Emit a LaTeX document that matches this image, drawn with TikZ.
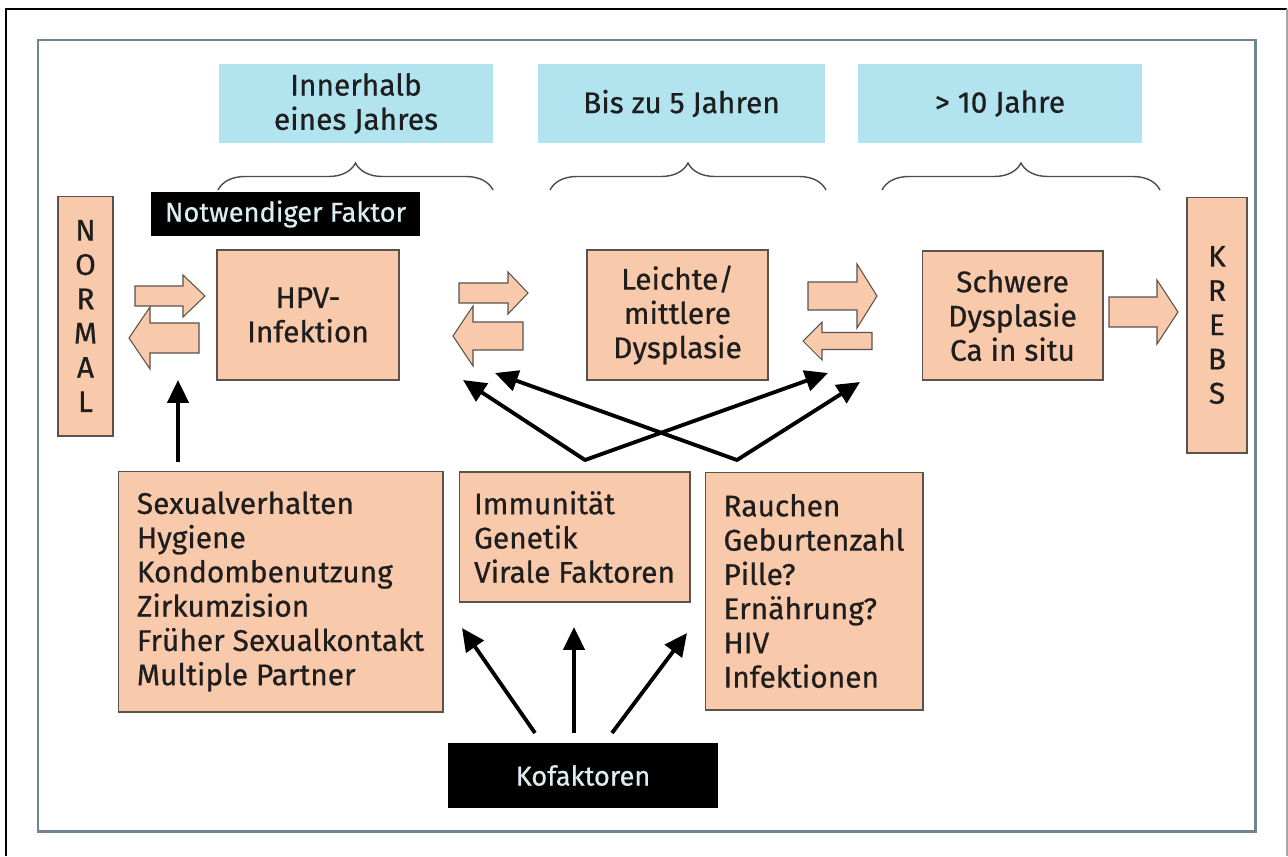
\documentclass[tikz,border=0pt]{standalone}
\usepackage{fontspec}
\setmainfont{Fira Sans}[FakeBold=0.6]
\usetikzlibrary{arrows.meta, positioning, calc, decorations.pathreplacing}

\definecolor{peach}{HTML}{F9C9AB}
\definecolor{skyb}{HTML}{B2E4F0}
\definecolor{framec}{HTML}{6E8491}
\definecolor{boxline}{HTML}{5A524C}
\definecolor{pale}{HTML}{DCEFF0}
\definecolor{ink}{HTML}{1E1E1E}

% block arrow: tail x, head base x, tip x, centre y, half shaft, half head
\newcommand{\blockarr}[6]{%
  \filldraw[blockarrow] (#1,#4-#5) -- (#2,#4-#5) -- (#2,#4-#6) -- (#3,#4)
    -- (#2,#4+#6) -- (#2,#4+#5) -- (#1,#4+#5) -- cycle;}

\begin{document}
\begin{tikzpicture}[
  x=0.02cm, y=-0.02cm,
  box/.style={draw=boxline, fill=peach, line width=0.6pt, inner sep=0pt, align=center,
    text=ink, font=\fontsize{17}{19.5}\selectfont},
  listbox/.style={box, align=left},
  period/.style={fill=skyb, inner sep=0pt, align=center, minimum height=1.58cm,
    text=ink, font=\fontsize{17}{19.5}\selectfont},
  tag/.style={fill=black, text=pale, inner sep=0pt, font=\fontsize{15.5}{18}\selectfont},
  blockarrow/.style={draw=boxline, fill=peach, line width=0.6pt},
  link/.style={line width=2.2pt, -{Triangle[length=13pt,width=12pt]}},
  cross/.style={line width=2.2pt, line join=round,
    {Triangle[length=13pt,width=12pt]}-{Triangle[length=13pt,width=12pt]}},
  span/.style={draw=black!70, line width=0.8pt, decorate, decoration={brace, amplitude=0.54cm}},
]
\useasboundingbox (0,0) rectangle (1288,856);

% frames
\draw[line width=0.8pt] (6,856) -- (6,9) -- (1287,9);
\draw[black!35, line width=0.6pt] (1287,9) -- (1287,856);
\draw[framec, line width=1.7pt] (38,40) rectangle (1255,831);

% time spans
\node[period, minimum width=5.48cm] (T1) at (356,103.5) {Innerhalb\\eines Jahres};
\node[period, minimum width=5.74cm] (T2) at (681.5,103.5) {Bis zu 5 Jahren};
\node[period, minimum width=5.68cm] (T3) at (1000,103.5) {> 10 Jahre};

\draw[span] (218,190) -- (493,190);
\draw[span] (550,190) -- (826,190);
\draw[span] (882,190) -- (1160,190);

\node[tag, minimum width=5.38cm, minimum height=0.88cm] (nf) at (285.5,214) {Notwendiger Faktor};

% stages
\node[box, minimum width=1.1cm, minimum height=4.8cm] (normal) at (85.5,316) {N\\O\\R\\M\\A\\L};
\node[box, minimum width=3.64cm, minimum height=2.6cm] (hpv) at (308,315) {HPV-\\Infektion};
\node[box, minimum width=3.62cm, minimum height=2.6cm] (dys) at (677.5,315) {Leichte/\\mittlere\\Dysplasie};
\node[box, minimum width=3.62cm, minimum height=2.58cm] (sdys) at (1012.5,315.5) {Schwere\\Dysplasie\\Ca in situ};
\node[box, minimum width=1.2cm, minimum height=5.12cm] (krebs) at (1217,325) {K\\R\\E\\B\\S};

\blockarr{135}{183}{205}{296}{10}{21}
\blockarr{199}{150}{129}{338}{15}{31}
\blockarr{459}{508}{528}{293}{10}{21}
\blockarr{523}{473}{453}{336}{14}{30}
\blockarr{808}{857}{877}{296}{14}{32}
\blockarr{872}{822}{803}{341}{8.5}{19}
\blockarr{1109}{1157}{1178}{312}{15}{32}

% cofactors
\node[listbox, minimum width=6.5cm, minimum height=4.82cm] (verh) at (280.5,591.5)
  {Sexualverhalten\\Hygiene\\Kondombenutzung\\Zirkumzision\\Früher Sexualkontakt\\Multiple Partner};
\node[listbox, minimum width=4.62cm, minimum height=2.6cm] (immun) at (574.5,537)
  {Immunität\\Genetik\\Virale Faktoren};
\node[listbox, minimum width=4.36cm, minimum height=4.76cm] (rauch) at (814,591)
  {Rauchen\\Geburtenzahl\\Pille?\\Ernährung?\\HIV\\Infektionen};
\node[tag, minimum width=5.4cm, minimum height=1.3cm] (kof) at (583,775.5) {Kofaktoren};

\coordinate (up0) at (178,462);
\coordinate (up1) at (178,380);
\draw[link] (up0) -- (up1);

\coordinate (vB) at (585,460);
\coordinate (vC) at (737,460);
\coordinate (hpvL) at (463,380);
\coordinate (hpvR) at (495,373);
\coordinate (sdysL) at (828,373);
\coordinate (sdysR) at (860,382);
\draw[cross] (hpvL) -- (vB) -- (sdysL);
\draw[cross] (hpvR) -- (vC) -- (sdysR);

\coordinate (k1) at (462,628);
\coordinate (k2) at (574,627);
\coordinate (k3) at (687,633);
\draw[link] (535,733) -- (k1);
\draw[link] (574,733) -- (k2);
\draw[link] (612,733) -- (k3);
\end{tikzpicture}
\end{document}
